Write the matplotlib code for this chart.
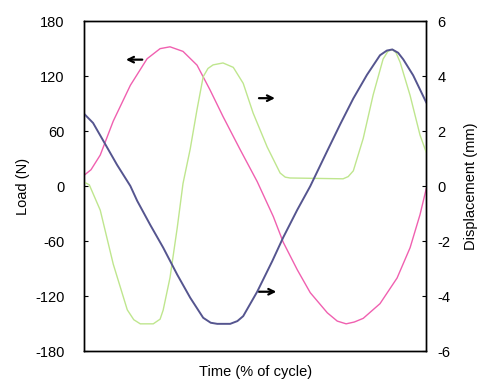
import matplotlib.pyplot as plt

plt.rcParams['font.family'] = ['Liberation Sans', 'DejaVu Sans']
plt.rcParams['axes.unicode_minus'] = False

# load curve (left axis, N)
load_t = [0, 2.0, 4.7, 8.5, 13.5, 18.4, 22.2, 25.1, 28.9, 33.0, 36.8, 40.6, 45.6, 50.6,
          55.3, 58.2, 62.3, 66.1, 71.1, 74.0, 76.6, 79.0, 81.6, 86.5, 91.5, 95.3, 98.2, 100]
load = [12, 18, 34, 71, 110, 139, 150, 152, 147, 132, 105, 76, 40, 5,
        -33, -61, -91, -116, -138, -147, -150, -148, -144, -128, -100, -67, -31, -3]

# displacement curves (right axis, mm)
disp1_t = [0, 2.6, 5.6, 9.6, 13.5, 15.5, 19.3, 23.1, 27.2, 31.0, 34.8, 37.0, 38.9, 42.7, 44.8,
           46.5, 50.6, 55.0, 58.2, 62.3, 66.1, 71.1, 74.9, 78.7, 82.7, 86.5, 88.5, 90.1, 91.8,
           93.3, 96.2, 100]
disp1 = [2.63, 2.30, 1.65, 0.78, 0.01, -0.53, -1.40, -2.23, -3.21, -4.05, -4.78, -4.96, -5.0, -5.0,
         -4.9, -4.72, -3.83, -2.72, -1.86, -0.86, 0.0, 1.29, 2.26, 3.19, 4.05, 4.76, 4.93, 4.97,
         4.85, 4.61, 4.03, 3.05]

disp2_t = [0, 1.5, 4.7, 8.5, 12.6, 14.5, 16.4, 20.2, 22.2, 23.1, 25.1, 27.2, 28.9, 31.0, 33.0,
           34.8, 36.2, 37.7, 40.6, 43.6, 46.5, 49.4, 53.5, 57.3, 58.8, 60.2, 75.7, 77.2, 78.7,
           81.6, 84.5, 87.4, 88.8, 90.1, 91.2, 92.4, 95.3, 98.2, 100]
disp2 = [0.15, 0.05, -0.87, -2.83, -4.49, -4.85, -5.0, -5.0, -4.83, -4.5, -3.32, -1.52, 0.10, 1.35,
         2.79, 3.98, 4.28, 4.41, 4.48, 4.32, 3.74, 2.66, 1.43, 0.48, 0.33, 0.30, 0.27, 0.35, 0.56,
         1.74, 3.32, 4.62, 4.9, 4.97, 4.85, 4.50, 3.30, 1.86, 1.24]

fig = plt.figure(figsize=(4.81, 3.84), dpi=100)
ax = fig.add_axes([0.175, 0.085, 0.711, 0.86])
ax2 = ax.twinx()

ax.plot(load_t, load, color='#f060b0', lw=1.0)
ax2.plot(disp2_t, disp2, color='#bfe68e', lw=1.0)
ax2.plot(disp1_t, disp1, color='#55558f', lw=1.4)

ax.set_xlim(0, 100)
ax.set_ylim(-180, 180)
ax2.set_ylim(-6, 6)
ax.set_yticks(range(-180, 181, 60))
ax2.set_yticks(range(-6, 7, 2))
ax.set_xticks([])
ax.tick_params(axis='y', direction='in', length=3, labelsize=10.5, pad=14)
ax2.tick_params(axis='y', direction='in', length=3, labelsize=10.5, pad=8)
for a in (ax, ax2):
    for s in a.spines.values():
        s.set_linewidth(1.0)

ax.set_ylabel('Load (N)', fontsize=10.5, labelpad=4)
ax2.set_ylabel('Displacement (mm)', fontsize=10.5, labelpad=10)
ax.set_xlabel('Time (% of cycle)', fontsize=10.5, labelpad=10)

arrow = dict(arrowstyle='->', color='black', lw=1.6)
ax.annotate('', xy=(11.4, 138), xytext=(17.8, 138), arrowprops=arrow)
ax.annotate('', xy=(56.6, 96), xytext=(50.3, 96), arrowprops=arrow)
ax.annotate('', xy=(57.0, -115), xytext=(50.3, -115), arrowprops=arrow)

fig.savefig('out.png', dpi=100)
